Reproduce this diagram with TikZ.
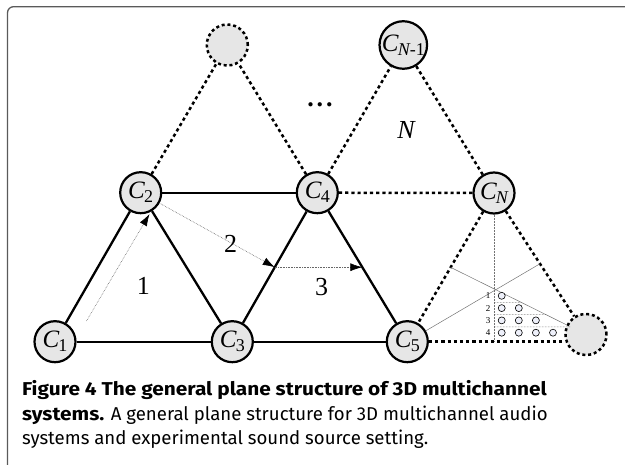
\documentclass[tikz,border=0pt]{standalone}
\usepackage{fontspec}
\setmainfont{Liberation Serif}
\newfontfamily\capfont{Fira Sans}[BoldFeatures={FakeStretch=1.12}]
\usetikzlibrary{arrows.meta, calc}
\definecolor{nodegray}{HTML}{E6E6E6}
\definecolor{framec}{HTML}{5A5A5A}
\definecolor{spotc}{HTML}{EEF0FA}
% channel label: italic C with a lowered index
\newcommand{\chan}[1]{\textit{C}\kern-1pt\raisebox{-0.35ex}{\fontsize{18}{18}\selectfont #1}}

\begin{document}
\begin{tikzpicture}[x=1pt, y=-1pt, line width=2.3pt,
    chan/.style={circle, draw, fill=nodegray, minimum size=41pt,
      inner sep=0pt, line width=2.2pt, font=\fontsize{25}{26}\selectfont},
    ghost/.style={chan, dash pattern=on 3pt off 2.8pt, line width=2.5pt},
    link/.style={line width=2.3pt},
    far/.style={line width=2.5pt, dash pattern=on 3.2pt off 3pt},
    route/.style={line width=0.6pt, black!60, densely dotted,
      -{Latex[length=12pt, width=8pt, fill=black, black]}},
    guide/.style={line width=0.5pt, black!55},
    tag/.style={font=\fontsize{26}{28}\selectfont},
    spot/.style={circle, draw, fill=spotc, line width=0.6pt,
      minimum size=7pt, inner sep=0pt}]
  \useasboundingbox (0,0) rectangle (625,465);
  \draw[framec, line width=1.3pt, rounded corners=6pt]
    (7.5,470) -- (7.5,6.7) -- (630,6.7);

  % loudspeaker channels
  \node[chan] (c1) at (55,341.7) {\chan{1}};
  \node[chan] (c2) at (140.7,192.7) {\chan{2}};
  \node[chan] (c3) at (232.3,341.7) {\chan{3}};
  \node[chan] (c4) at (317.3,192.7) {\chan{4}};
  \node[chan] (c5) at (407.3,341.7) {\chan{5}};
  \node[chan] (cn) at (494,193) {\chan{\itshape N}};
  \node[chan] (cn1) at (403.3,45) {\chan{\itshape N\upshape-1}};
  \node[ghost] (gt) at (227.3,45) {};
  \node[ghost] (gb) at (586,334.5) {};

  \foreach \a/\b in {c1/c2, c1/c3, c2/c3, c2/c4, c3/c4, c3/c5, c4/c5}
    \draw[link] (\a) -- (\b);
  \foreach \a/\b in {c2/gt, c4/gt, c4/cn1, cn1/cn, c4/cn, cn/c5, cn/gb}
    \draw[far] (\a) -- (\b);
  \draw[far] (c5) -- (c5 -| gb.west);

  % medians of the last triangle
  \coordinate (m1) at ($(c5)!0.5!(cn)$);
  \coordinate (m2) at ($(cn)!0.5!(gb)$);
  \draw[guide] (c5) -- (m2);
  \draw[guide] (m1) -- (gb);
  \draw[guide, densely dotted] (cn) -- (cn |- c5);

  % source positions, rows 1..4
  \foreach \r in {1,...,4} {
    \pgfmathsetmacro{\y}{283.5+12.3*\r}
    \node[font=\fontsize{9}{9}\selectfont, inner sep=0pt] (row\r) at (488,\y) {\r};
    \foreach \k in {1,...,\r}
      \node[spot] (s\r\k) at ({501.7+17.1*(\k-1)},\y) {};
  }
  \foreach \r in {2,3,4} {
    \pgfmathsetmacro{\y}{283.5+12.3*\r-5.8}
    \draw[guide, black!70, densely dotted]
      (494,\y) -- (intersection of m1--gb and 494,\y--620,\y);
  }

  % moving directions
  \coordinate (m34) at ($(c3)!0.5!(c4)$);
  \coordinate (m45) at ($(c4)!0.5!(c5)$);
  \coordinate (a1s) at (86.5,321);
  \coordinate (a1e) at (149.5,214);
  \draw[route] (a1s) -- (a1e);
  \draw[route] (c2) -- (m34);
  \draw[route] (m34) -- (m45);

  \node[tag] (t1) at (143.3,286) {1};
  \node[tag] (t2) at (230.7,244) {2};
  \node[tag] (t3) at (321.7,286.7) {3};
  \node[tag] (tn) at (406.7,130) {\textit{N}};
  \node[tag] (dots) at (320,105) {\textbf{.\hspace{3pt}.\hspace{3pt}.}};

  % caption
  \begin{scope}[every node/.style={anchor=base west, inner sep=0pt,
      font=\capfont\fontsize{18.6}{22}\selectfont}]
    \node (cap1) at (21,396) {\textbf{Figure 4 The general plane structure of 3D multichannel}};
    \node (cap2) at (21,420.5) {\textbf{systems.} A general plane structure for 3D multichannel audio};
    \node (cap3) at (21,445) {systems and experimental sound source setting.};
  \end{scope}
\end{tikzpicture}
\end{document}
